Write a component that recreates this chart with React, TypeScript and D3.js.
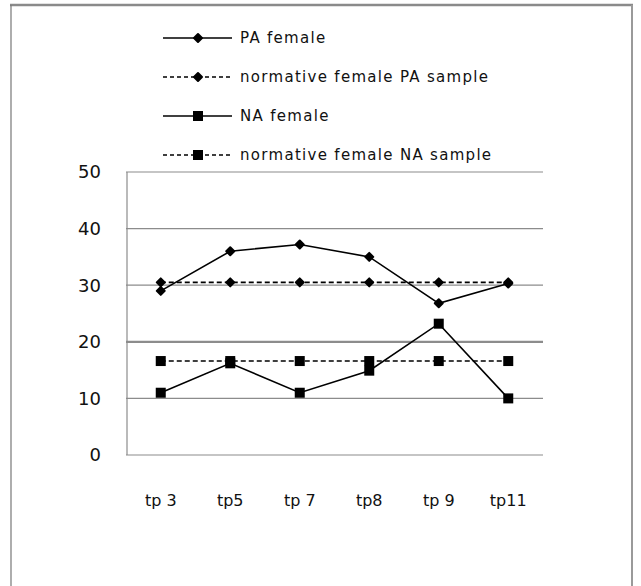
import React from "react";
import * as d3 from "d3";

const categories = ["tp 3", "tp5", "tp 7", "tp8", "tp 9", "tp11"];
const paFemale = [29.0, 36.0, 37.2, 35.0, 26.8, 30.3];
const paNorm = [30.5, 30.5, 30.5, 30.5, 30.5, 30.5];
const naFemale = [11.0, 16.2, 11.0, 14.9, 23.2, 10.0];
const naNorm = [16.6, 16.6, 16.6, 16.6, 16.6, 16.6];
const yTicks = [0, 10, 20, 30, 40, 50];

const seriesList = [
  { name: "PA female", values: paFemale, dashed: false, marker: "diamond" },
  { name: "normative female PA sample", values: paNorm, dashed: true, marker: "diamond" },
  { name: "NA female", values: naFemale, dashed: false, marker: "square" },
  { name: "normative female NA sample", values: naNorm, dashed: true, marker: "square" },
];

const FONT = "'DejaVu Sans', Verdana, sans-serif";

function Marker({ kind, x, y }: { kind: string; x: number; y: number }) {
  if (kind === "square") {
    return <rect x={x - 5} y={y - 5} width={10} height={10} fill="#000" />;
  }
  return (
    <path
      d={`M${x},${y - 4}L${x + 4},${y}L${x},${y + 4}L${x - 4},${y}Z`}
      fill="#000"
      stroke="#000"
      strokeWidth={2}
      strokeLinejoin="round"
    />
  );
}

export default function App() {
  const W = 641;
  const H = 586;
  const left = 126;
  const right = 543;
  const top = 172;
  const bottom = 455;

  const x = d3.scaleBand<string>().domain(categories).range([left, right]).padding(0);
  const y = d3.scaleLinear().domain([0, 50]).range([bottom, top]);
  const cx = (c: string) => (x(c) as number) + x.bandwidth() / 2;

  const line = d3
    .line<number>()
    .x((_, i) => cx(categories[i]))
    .y((v) => y(v));

  const legendRows = [38, 77, 116, 155];

  return (
    <div style={{ position: "absolute", left: 0, top: 0 }}>
      <svg width={W} height={H} style={{ display: "block" }}>
        <rect x={0} y={0} width={W} height={H} fill="#fff" />
        {/* outer frame */}
        <line x1={10} x2={633} y1={5} y2={5} stroke="#8a8a8a" strokeWidth={2.5} />
        <line x1={11} x2={11} y1={5} y2={H} stroke="#777" strokeWidth={1.2} />
        <line x1={632} x2={632} y1={5} y2={H} stroke="#9a9a9a" strokeWidth={2} />

        {/* gridlines */}
        {yTicks.map((t) => (
          <line
            key={t}
            x1={left}
            x2={right}
            y1={y(t)}
            y2={y(t)}
            stroke="#8c8c8c"
            strokeWidth={t === 20 ? 2.2 : 1.2}
          />
        ))}
        <line x1={left + 1} x2={left + 1} y1={top} y2={bottom} stroke="#8c8c8c" strokeWidth={1.2} />

        {/* y labels */}
        {yTicks.map((t) => (
          <text
            key={t}
            x={101}
            y={y(t)}
            dy="0.36em"
            textAnchor="end"
            fontFamily={FONT}
            fontSize={18}
            fill="#111"
          >
            {t}
          </text>
        ))}

        {/* x labels */}
        {categories.map((c) => (
          <text
            key={c}
            x={cx(c)}
            y={500}
            dy="0.36em"
            textAnchor="middle"
            fontFamily={FONT}
            fontSize={16}
            fill="#111"
          >
            {c}
          </text>
        ))}

        {/* series */}
        {seriesList.map((s) => (
          <g key={s.name}>
            <path
              d={line(s.values) as string}
              fill="none"
              stroke="#000"
              strokeWidth={1.6}
              strokeDasharray={s.dashed ? "5,3" : undefined}
            />
            {s.values.map((v, i) => (
              <Marker key={i} kind={s.marker} x={cx(categories[i])} y={y(v)} />
            ))}
          </g>
        ))}

        {/* legend */}
        {seriesList.map((s, i) => (
          <g key={s.name}>
            <line
              x1={163}
              x2={232}
              y1={legendRows[i]}
              y2={legendRows[i]}
              stroke="#000"
              strokeWidth={1.5}
              strokeDasharray={s.dashed ? "4,3" : undefined}
            />
            <Marker kind={s.marker} x={198} y={legendRows[i]} />
            <text
              x={240}
              y={legendRows[i]}
              dy="0.36em"
              fontFamily={FONT}
              fontSize={15}
              letterSpacing={1.3}
              fill="#111"
            >
              {s.name}
            </text>
          </g>
        ))}
      </svg>
    </div>
  );
}
